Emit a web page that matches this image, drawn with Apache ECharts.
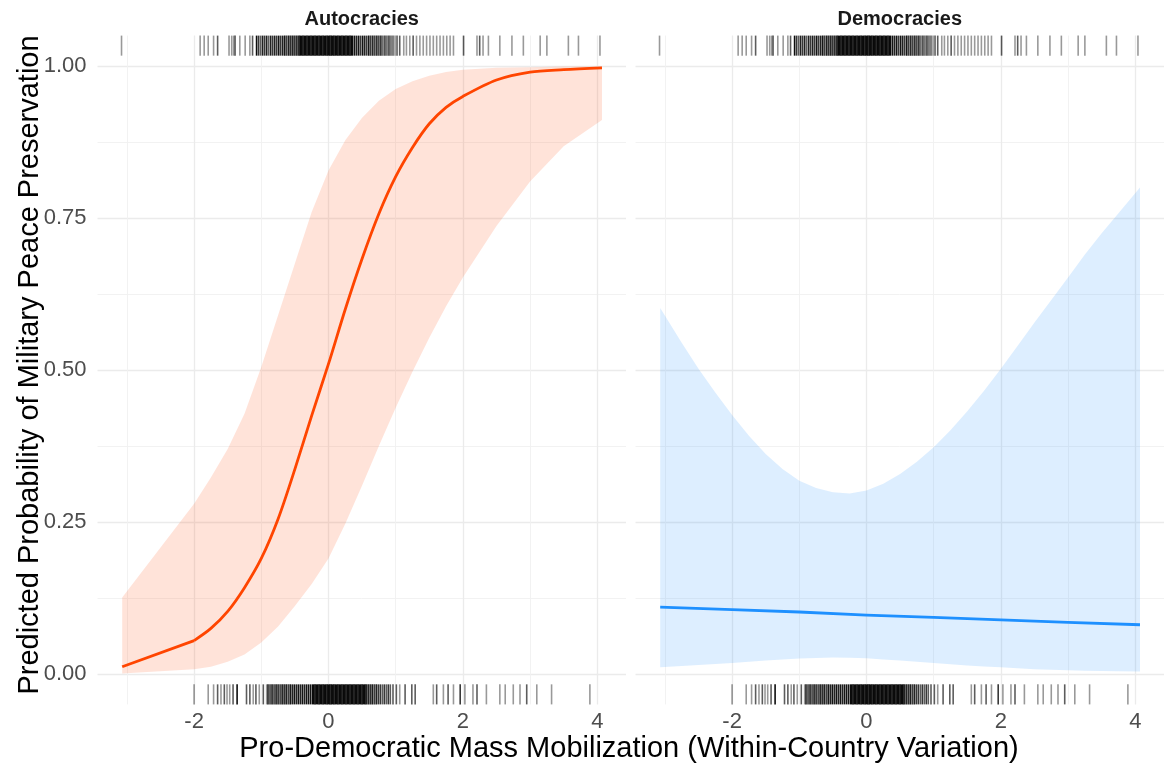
<!DOCTYPE html>
<html>
<head>
<meta charset="utf-8">
<script src="https://cdn.jsdelivr.net/npm/echarts@6/dist/echarts.min.js"></script>
<style>
html,body{margin:0;padding:0;background:#fff;}
#chart{width:1164px;height:767px;}
</style>
</head>
<body>
<div id="chart"></div>
<script>
// ---------- data ----------
const panelNames = ["Autocracies", "Democracies"];
const xTitle = "Pro-Democratic Mass Mobilization (Within-Country Variation)";
const yTitle = "Predicted Probability of Military Peace Preservation";

const xMajorTicks = [-2, 0, 2, 4];
const xMinorTicks = [-3, -1, 1, 3];
const yMajorTicks = [0, 0.25, 0.5, 0.75, 1];
const yMinorTicks = [0.125, 0.375, 0.625, 0.875];

// Autocracies: predicted probability and 95% band
const autoX    = [-3.07,-2,-1.75,-1.5,-1.25,-1,-0.75,-0.5,-0.25,0,0.25,0.5,0.75,1,1.25,1.5,1.75,2,2.5,3,3.5,4.07];
const autoFit  = [0.012,0.055,0.075,0.103,0.142,0.19,0.255,0.337,0.425,0.51,0.60,0.683,0.757,0.818,0.866,0.905,0.932,0.95,0.977,0.99,0.994,0.997];
const autoHigh = [0.126,0.28,0.323,0.37,0.428,0.505,0.59,0.675,0.76,0.828,0.878,0.915,0.943,0.962,0.975,0.984,0.99,0.994,0.997,0.998,0.999,0.999];
const autoLow  = [0.001,0.008,0.012,0.02,0.032,0.052,0.078,0.112,0.148,0.19,0.247,0.31,0.375,0.438,0.497,0.553,0.605,0.652,0.737,0.81,0.868,0.911];

// Democracies: predicted probability and 95% band
const demoFitX = [-3.07,-2,-1,0,1,2,3,4.07];
const demoFit  = [0.110,0.106,0.102,0.097,0.093,0.089,0.085,0.081];
const demoX    = [-3.07,-2.75,-2.5,-2.25,-2,-1.75,-1.5,-1.25,-1,-0.75,-0.5,-0.25,0,0.25,0.5,0.75,1,1.25,1.5,1.75,2,2.25,2.5,2.75,3,3.25,3.5,3.75,4.07];
const demoHigh = [0.602,0.545,0.502,0.463,0.426,0.392,0.362,0.337,0.318,0.306,0.299,0.297,0.302,0.313,0.329,0.349,0.373,0.401,0.432,0.466,0.502,0.54,0.578,0.615,0.652,0.69,0.725,0.758,0.80];
const demoLow  = [0.011,0.013,0.015,0.0165,0.018,0.02,0.022,0.024,0.0255,0.0265,0.027,0.0268,0.026,0.024,0.022,0.02,0.018,0.016,0.014,0.0125,0.011,0.0095,0.008,0.007,0.006,0.0055,0.005,0.0045,0.004];

// Rug marks: [x, number of observations at that position]
const topRug = [
  [-3.08,1],[-1.91,1],[-1.85,1],[-1.79,1],[-1.71,1],[-1.65,2],[-1.48,1],[-1.44,1],[-1.41,1],[-1.39,2],[-1.32,1],
  [-1.24,1],[-1.17,1],[-1.13,2],[-1.07,6],
  [-1.04,3],[-1.01,2],[-0.98,4],[-0.95,3],[-0.92,4],[-0.89,2],[-0.86,4],[-0.83,3],[-0.80,4],[-0.77,3],[-0.74,5],
  [-0.71,3],[-0.68,4],[-0.65,5],[-0.62,3],[-0.59,5],[-0.56,4],[-0.53,5],[-0.50,4],[-0.47,5],[-0.44,6],
  [-0.42,6],[-0.40,6],[-0.38,6],[-0.36,6],[-0.34,6],[-0.32,6],[-0.30,6],[-0.28,6],[-0.26,6],[-0.24,6],[-0.22,6],
  [-0.20,6],[-0.18,6],[-0.16,6],[-0.14,6],[-0.12,6],[-0.10,6],[-0.08,6],[-0.06,6],[-0.04,6],[-0.02,6],[0,6],
  [0.02,6],[0.04,6],[0.06,6],[0.08,6],[0.10,6],[0.12,6],[0.14,6],[0.16,6],[0.18,6],[0.20,6],[0.22,6],[0.24,6],
  [0.26,6],[0.28,6],[0.30,6],[0.32,6],[0.34,6],[0.36,6],
  [0.39,5],[0.42,4],[0.45,5],[0.48,3],[0.51,5],[0.54,4],[0.57,3],[0.60,5],[0.63,3],[0.66,4],[0.69,3],[0.72,4],
  [0.75,3],[0.78,4],[0.81,2],[0.84,3],[0.87,2],[0.90,3],[0.93,2],[0.96,2],[0.99,1],[1.02,2],[1.06,2],
  [1.12,1],[1.16,1],[1.21,1],[1.26,2],[1.31,1],[1.36,1],[1.41,1],[1.46,1],[1.51,1],[1.56,1],[1.61,1],[1.66,1],
  [1.71,1],[1.76,1],[1.81,1],[1.86,1],[2.01,2],[2.21,1],[2.25,2],[2.30,1],[2.38,1],[2.55,1],[2.73,1],[2.90,1],
  [3.15,1],[3.25,1],[3.57,1],[3.72,1],[4.04,1]
];
const bottomRug = [
  [-2.00,1],[-1.79,1],[-1.71,1],[-1.65,2],[-1.60,1],[-1.55,2],[-1.51,1],[-1.47,1],[-1.42,2],[-1.36,6],[-1.22,2],
  [-1.17,2],[-1.12,1],[-1.08,2],[-1.03,1],[-0.97,2],[-0.92,1],
  [-0.90,4],[-0.87,3],[-0.84,5],[-0.81,3],[-0.78,5],[-0.75,4],[-0.72,3],[-0.69,5],[-0.66,4],[-0.63,5],[-0.60,3],
  [-0.57,5],[-0.54,4],[-0.51,5],[-0.48,4],[-0.45,5],[-0.42,4],[-0.39,5],[-0.36,4],[-0.33,5],[-0.30,5],[-0.27,5],
  [-0.24,6],[-0.22,6],[-0.20,6],[-0.18,6],[-0.16,6],[-0.14,6],[-0.12,6],[-0.10,6],[-0.08,6],[-0.06,6],[-0.04,6],
  [-0.02,6],[0,6],[0.02,6],[0.04,6],[0.06,6],[0.08,6],[0.10,6],[0.12,6],[0.14,6],[0.16,6],[0.18,6],[0.20,6],
  [0.22,6],[0.24,6],[0.26,6],[0.28,6],[0.30,6],[0.32,6],[0.34,6],[0.36,6],[0.38,6],[0.40,6],[0.42,6],[0.44,6],
  [0.46,6],[0.48,6],[0.50,6],[0.52,6],[0.54,6],[0.56,6],
  [0.59,5],[0.62,4],[0.65,5],[0.68,3],[0.71,4],[0.74,3],[0.77,3],[0.80,2],[0.83,3],[0.86,2],[0.89,3],[0.92,2],
  [0.96,2],[1.01,2],[1.06,1],[1.14,2],[1.24,2],[1.29,2],
  [1.56,1],[1.61,2],[1.71,1],[1.78,2],[1.86,1],[1.96,3],[2.03,1],[2.15,1],[2.21,2],[2.35,1],[2.55,1],[2.63,1],
  [2.75,1],[2.85,1],[2.95,2],[3.10,1],[3.32,1],[3.89,1]
];

// ---------- layout / style ----------
const X_MIN = -3.4375, X_MAX = 4.4275;
const Y_MIN = -0.05, Y_MAX = 1.05;
const RUG_LEN = 0.033; // 3% of the y range
const RUG_ALPHA = 0.4;
const FONT = "'Liberation Sans', Arial, Helvetica, sans-serif";
const GRID_MAJOR = {color: '#ebebeb', width: 1.3};
const GRID_MINOR = {color: '#f0f0f0', width: 0.9};
const grids = [
  {left: 97.5, top: 35.6, width: 528.5, height: 668.8},
  {left: 635.5, top: 35.6, width: 528.5, height: 668.8}
];

function xAxisDef(g, ticks, labels, style) {
  return {
    gridIndex: g, type: 'value', min: X_MIN, max: X_MAX,
    axisLine: {show: false},
    axisTick: {show: false, customValues: ticks},
    axisLabel: labels ? {show: true, customValues: ticks, fontSize: 22, color: '#4d4d4d', fontFamily: FONT, margin: 7} : {show: false},
    splitLine: {show: true, lineStyle: style}
  };
}
function yAxisDef(g, ticks, labels, style) {
  return {
    gridIndex: g, type: 'value', min: Y_MIN, max: Y_MAX,
    axisLine: {show: false},
    axisTick: {show: false, customValues: ticks},
    axisLabel: labels ? {show: true, customValues: ticks, fontSize: 22, color: '#4d4d4d', fontFamily: FONT, margin: 11,
                          formatter: v => Number(v).toFixed(2)} : {show: false},
    splitLine: {show: true, lineStyle: style}
  };
}

function ribbon(xi, yi, xs, lo, hi, color) {
  return {
    type: 'custom', xAxisIndex: xi, yAxisIndex: yi, silent: true, z: 2, clip: false,
    data: [[xs[0], lo[0]]],
    renderItem: (params, api) => {
      const pts = [];
      for (let i = 0; i < xs.length; i++) pts.push(api.coord([xs[i], hi[i]]));
      for (let i = xs.length - 1; i >= 0; i--) pts.push(api.coord([xs[i], lo[i]]));
      return {type: 'polygon', shape: {points: pts}, style: {fill: color}};
    }
  };
}
function fitLine(xi, yi, xs, ys, color, smooth) {
  return {
    type: 'line', xAxisIndex: xi, yAxisIndex: yi, z: 3, silent: true,
    data: xs.map((x, i) => [x, ys[i]]),
    showSymbol: false, symbol: 'none', smooth: smooth || false,
    lineStyle: {color: color, width: 2.8, join: 'round'}
  };
}
function rug(xi, yi, marks, atTop) {
  const y1 = atTop ? Y_MAX : Y_MIN;
  const y2 = atTop ? Y_MAX - RUG_LEN : Y_MIN + RUG_LEN;
  return {
    type: 'custom', xAxisIndex: xi, yAxisIndex: yi, silent: true, z: 4,
    data: marks.map(m => [m[0], y1, m[1]]),
    renderItem: (params, api) => {
      const x = api.value(0);
      const n = api.value(2);
      const a = api.coord([x, y1]);
      const b = api.coord([x, y2]);
      const alpha = 1 - Math.pow(1 - RUG_ALPHA, n);
      return {type: 'line', shape: {x1: a[0], y1: a[1], x2: b[0], y2: b[1]},
              style: {stroke: 'rgba(0,0,0,' + alpha.toFixed(3) + ')', lineWidth: 1.6}};
    }
  };
}

const option = {
  backgroundColor: '#ffffff',
  animation: false,
  grid: grids,
  xAxis: [
    xAxisDef(0, xMajorTicks, true, GRID_MAJOR),
    xAxisDef(0, xMinorTicks, false, GRID_MINOR),
    xAxisDef(1, xMajorTicks, true, GRID_MAJOR),
    xAxisDef(1, xMinorTicks, false, GRID_MINOR)
  ],
  yAxis: [
    yAxisDef(0, yMajorTicks, true, GRID_MAJOR),
    yAxisDef(0, yMinorTicks, false, GRID_MINOR),
    yAxisDef(1, yMajorTicks, false, GRID_MAJOR),
    yAxisDef(1, yMinorTicks, false, GRID_MINOR)
  ],
  series: [
    ribbon(0, 0, autoX, autoLow, autoHigh, 'rgba(255,69,0,0.15)'),
    // straight segment up to x = -2, smooth curve after it (matches the kink in the original)
    fitLine(0, 0, autoX.slice(0, 2), autoFit.slice(0, 2), '#FF4500', false),
    fitLine(0, 0, autoX.slice(1), autoFit.slice(1), '#FF4500', 0.3),
    rug(0, 0, topRug, true),
    rug(0, 0, bottomRug, false),
    ribbon(2, 2, demoX, demoLow, demoHigh, 'rgba(30,144,255,0.15)'),
    fitLine(2, 2, demoFitX, demoFit, '#1E90FF', false),
    rug(2, 2, topRug, true),
    rug(2, 2, bottomRug, false)
  ],
  graphic: [
    {type: 'text', x: 361.75, y: 19, style: {text: panelNames[0], font: 'bold 20px ' + FONT, fill: '#1a1a1a', textAlign: 'center', textVerticalAlign: 'middle'}},
    {type: 'text', x: 899.75, y: 19, style: {text: panelNames[1], font: 'bold 20px ' + FONT, fill: '#1a1a1a', textAlign: 'center', textVerticalAlign: 'middle'}},
    {type: 'text', x: 629, y: 749, style: {text: xTitle, font: '29px ' + FONT, fill: '#000', textAlign: 'center', textVerticalAlign: 'middle'}},
    {type: 'text', x: 30, y: 365, rotation: Math.PI / 2, style: {text: yTitle, font: '29px ' + FONT, fill: '#000', textAlign: 'center', textVerticalAlign: 'middle'}}
  ]
};

const chart = echarts.init(document.getElementById('chart'), null, {renderer: 'canvas'});
chart.setOption(option);
</script>
</body>
</html>
